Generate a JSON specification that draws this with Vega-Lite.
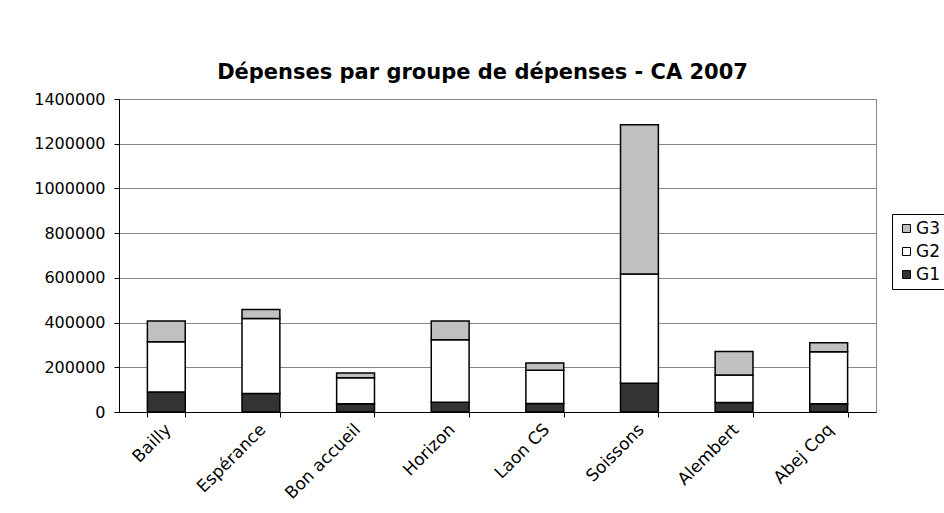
{
  "$schema": "https://vega.github.io/schema/vega-lite/v6.json",
  "width": 757,
  "height": 313,
  "autosize": {"type": "none"},
  "padding": {"left": 119, "top": 99, "right": 68, "bottom": 101},
  "background": "white",
  "title": {
    "text": "Dépenses par groupe de dépenses - CA 2007",
    "font": "DejaVu Sans",
    "fontSize": 21,
    "fontWeight": "bold",
    "color": "black",
    "anchor": "middle",
    "dx": -15,
    "offset": 8
  },
  "data": {
    "values": [
      {"site": "Bailly", "groupe": "G1", "montant": 89000},
      {"site": "Bailly", "groupe": "G2", "montant": 225000},
      {"site": "Bailly", "groupe": "G3", "montant": 93000},
      {"site": "Espérance", "groupe": "G1", "montant": 83000},
      {"site": "Espérance", "groupe": "G2", "montant": 335000},
      {"site": "Espérance", "groupe": "G3", "montant": 40000},
      {"site": "Bon accueil", "groupe": "G1", "montant": 37000},
      {"site": "Bon accueil", "groupe": "G2", "montant": 116000},
      {"site": "Bon accueil", "groupe": "G3", "montant": 21000},
      {"site": "Horizon", "groupe": "G1", "montant": 44000},
      {"site": "Horizon", "groupe": "G2", "montant": 279000},
      {"site": "Horizon", "groupe": "G3", "montant": 84000},
      {"site": "Laon CS", "groupe": "G1", "montant": 38000},
      {"site": "Laon CS", "groupe": "G2", "montant": 149000},
      {"site": "Laon CS", "groupe": "G3", "montant": 32000},
      {"site": "Soissons", "groupe": "G1", "montant": 129000},
      {"site": "Soissons", "groupe": "G2", "montant": 488000},
      {"site": "Soissons", "groupe": "G3", "montant": 668000},
      {"site": "Alembert", "groupe": "G1", "montant": 43000},
      {"site": "Alembert", "groupe": "G2", "montant": 123000},
      {"site": "Alembert", "groupe": "G3", "montant": 105000},
      {"site": "Abej Coq", "groupe": "G1", "montant": 37000},
      {"site": "Abej Coq", "groupe": "G2", "montant": 233000},
      {"site": "Abej Coq", "groupe": "G3", "montant": 40000}
    ]
  },
  "mark": {"type": "bar", "stroke": "black", "strokeWidth": 1.5},
  "encoding": {
    "x": {
      "field": "site",
      "type": "nominal",
      "sort": null,
      "scale": {"paddingInner": 0.6, "paddingOuter": 0.3},
      "axis": {
        "title": null,
        "labelAngle": -45,
        "tickBand": "extent",
        "grid": false,
        "domainColor": "black",
        "tickColor": "black",
        "tickSize": 5,
        "labelPadding": 4,
        "labelOffset": -4,
        "labelFont": "DejaVu Sans",
        "labelFontSize": 17,
        "labelColor": "black"
      }
    },
    "y": {
      "field": "montant",
      "type": "quantitative",
      "stack": "zero",
      "scale": {"domain": [0, 1400000], "nice": false},
      "axis": {
        "title": null,
        "values": [0, 200000, 400000, 600000, 800000, 1000000, 1200000, 1400000],
        "format": "d",
        "grid": true,
        "gridColor": "#868686",
        "domainColor": "black",
        "tickColor": "black",
        "tickSize": 5,
        "labelPadding": 9,
        "labelFont": "DejaVu Sans",
        "labelFontSize": 16,
        "labelColor": "black"
      }
    },
    "color": {
      "field": "groupe",
      "type": "nominal",
      "scale": {"domain": ["G1", "G2", "G3"], "range": ["#333333", "#ffffff", "#c0c0c0"]},
      "legend": {
        "orient": "none",
        "legendX": 773,
        "legendY": 115,
        "title": null,
        "values": ["G3", "G2", "G1"],
        "symbolType": "square",
        "symbolSize": 64,
        "symbolStrokeColor": "black",
        "symbolStrokeWidth": 1,
        "symbolOpacity": 1,
        "labelFont": "DejaVu Sans",
        "labelFontSize": 17,
        "labelColor": "black",
        "labelOffset": 1,
        "strokeColor": "black",
        "fillColor": "white",
        "padding": 6,
        "rowPadding": 5
      }
    },
    "order": {"field": "groupe", "type": "nominal"}
  },
  "config": {
    "view": {"stroke": "#868686", "strokeWidth": 1},
    "axis": {"domainWidth": 1, "gridWidth": 1, "tickWidth": 1}
  }
}
